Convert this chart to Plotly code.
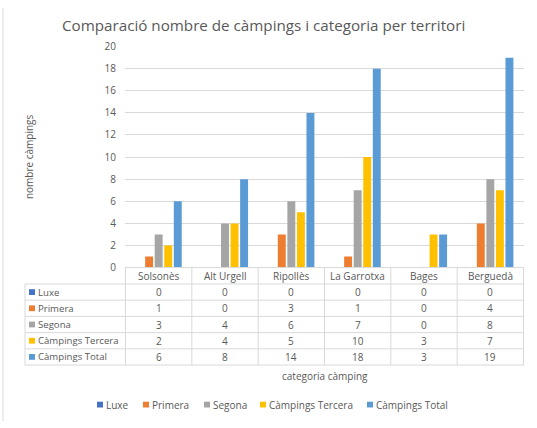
import plotly.graph_objects as go

# ---- data ----
categories = ["Solsonès", "Alt Urgell", "Ripollès", "La Garrotxa", "Bages", "Berguedà"]
luxe = [0, 0, 0, 0, 0, 0]
primera = [1, 0, 3, 1, 0, 4]
segona = [3, 4, 6, 7, 0, 8]
tercera = [2, 4, 5, 10, 3, 7]
total = [6, 8, 14, 18, 3, 19]
series_names = ["Luxe", "Primera", "Segona", "Càmpings Tercera", "Càmpings Total"]
y_ticks = [0, 2, 4, 6, 8, 10, 12, 14, 16, 18, 20]

title_text = "Comparació nombre de càmpings i categoria per territori"
y_title = "nombre càmpings"
x_title = "categoria càmping"

# ---- styles / layout ----
W, H = 537, 428
colors = ["#4472C4", "#ED7D31", "#A5A5A5", "#FFC000", "#5B9BD5"]
txt = "#595959"
grid = "#D9D9D9"
FONT = "Open Sans"

def px(x):
    return x / W

def py(y):
    return 1 - y / H

plot_left, plot_right = 125, 524
plot_top, plot_bottom = 40, 269
table_left = 25
header_bottom = 286
table_bottom = 370

series_values = [luxe, primera, segona, tercera, total]

fig = go.Figure()
for name, vals, col in zip(series_names, series_values, colors):
    fig.add_trace(go.Bar(x=categories, y=vals, name=name, marker_color=col,
                         marker_line_width=0, showlegend=False))

shapes = []
annotations = []

# outer left border
shapes.append(dict(type="line", xref="paper", yref="paper", x0=px(3), x1=px(3),
                   y0=0, y1=1, line=dict(color=grid, width=1)))

# table horizontal lines
nrows = len(series_names)
row_h = (table_bottom - header_bottom) / nrows
shapes.append(dict(type="line", xref="paper", yref="paper", x0=px(plot_left), x1=px(plot_right),
                   y0=py(plot_bottom), y1=py(plot_bottom), line=dict(color=grid, width=1)))
for r in range(nrows + 1):
    yy = header_bottom + r * row_h
    shapes.append(dict(type="line", xref="paper", yref="paper", x0=px(table_left), x1=px(plot_right),
                       y0=py(yy), y1=py(yy), line=dict(color=grid, width=1)))
# table vertical lines
shapes.append(dict(type="line", xref="paper", yref="paper", x0=px(table_left), x1=px(table_left),
                   y0=py(header_bottom), y1=py(table_bottom), line=dict(color=grid, width=1)))
for k in range(len(categories) + 1):
    shapes.append(dict(type="line", xref="x", yref="paper", x0=k - 0.5, x1=k - 0.5,
                       y0=py(plot_bottom), y1=py(table_bottom), line=dict(color=grid, width=1)))

# header: category names
for c in categories:
    annotations.append(dict(xref="x", yref="paper", x=c, y=py((plot_bottom + header_bottom) / 2),
                            text=c, showarrow=False, font=dict(size=10, color=txt, family=FONT),
                            xanchor="center", yanchor="middle"))
# rows
for r, (name, vals, col) in enumerate(zip(series_names, series_values, colors)):
    yc = header_bottom + (r + 0.5) * row_h
    shapes.append(dict(type="rect", xref="paper", yref="paper", x0=px(29), x1=px(35),
                       y0=py(yc - 3), y1=py(yc + 3), fillcolor=col, line=dict(width=0)))
    annotations.append(dict(xref="paper", yref="paper", x=px(36), y=py(yc), text=name,
                            showarrow=False, font=dict(size=9.6, color=txt, family=FONT),
                            xanchor="left", yanchor="middle"))
    for c, v in zip(categories, vals):
        annotations.append(dict(xref="x", yref="paper", x=c, y=py(yc), text=str(v),
                                showarrow=False, font=dict(size=10, color=txt, family=FONT),
                                xanchor="center", yanchor="middle"))

# titles
annotations.append(dict(xref="paper", yref="paper", x=px(263.5), y=py(18), text=title_text,
                        showarrow=False, font=dict(size=15.2, color=txt, family=FONT),
                        xanchor="center", yanchor="middle"))
annotations.append(dict(xref="paper", yref="paper", x=px(29), y=py((plot_top + plot_bottom) / 2),
                        text=y_title, textangle=-90, showarrow=False,
                        font=dict(size=10, color=txt, family=FONT), xanchor="center", yanchor="middle"))
annotations.append(dict(xref="paper", yref="paper", x=px((plot_left + plot_right) / 2), y=py(381),
                        text=x_title, showarrow=False, font=dict(size=10, color=txt, family=FONT),
                        xanchor="center", yanchor="middle"))

# custom legend
legend_x = [97, 143, 204, 260, 367]
legend_y = 411
for name, col, lx in zip(series_names, colors, legend_x):
    shapes.append(dict(type="rect", xref="paper", yref="paper", x0=px(lx), x1=px(lx + 6),
                       y0=py(legend_y - 3), y1=py(legend_y + 3), fillcolor=col, line=dict(width=0)))
    annotations.append(dict(xref="paper", yref="paper", x=px(lx + 7), y=py(legend_y), text=name,
                            showarrow=False, font=dict(size=10, color=txt, family=FONT),
                            xanchor="left", yanchor="middle"))

fig.update_layout(
    width=W, height=H, autosize=False,
    margin=dict(l=0, r=0, t=0, b=0),
    paper_bgcolor="white", plot_bgcolor="white",
    barmode="group", bargap=0.28, bargroupgap=0.17,
    font=dict(family=FONT, color=txt, size=10),
    xaxis=dict(domain=[px(plot_left), px(plot_right)], showticklabels=False, showgrid=False,
               zeroline=False, showline=False, ticks=""),
    yaxis=dict(domain=[py(plot_bottom), py(plot_top)], range=[0, 20], tickvals=y_ticks,
               showgrid=True, gridcolor=grid, gridwidth=1, zeroline=False, showline=False,
               ticks="", ticklabelstandoff=8, tickfont=dict(size=10, color=txt, family=FONT)),
    shapes=shapes, annotations=annotations, showlegend=False,
)

fig.write_html(
    "out.html",
    config={"displayModeBar": False},
    post_script=("document.body.style.margin='0';document.body.style.overflow='hidden';"
                 "var gd=document.getElementById('{plot_id}');"
                 "gd.style.position='fixed';gd.style.top='0px';gd.style.left='0px';"),
)
